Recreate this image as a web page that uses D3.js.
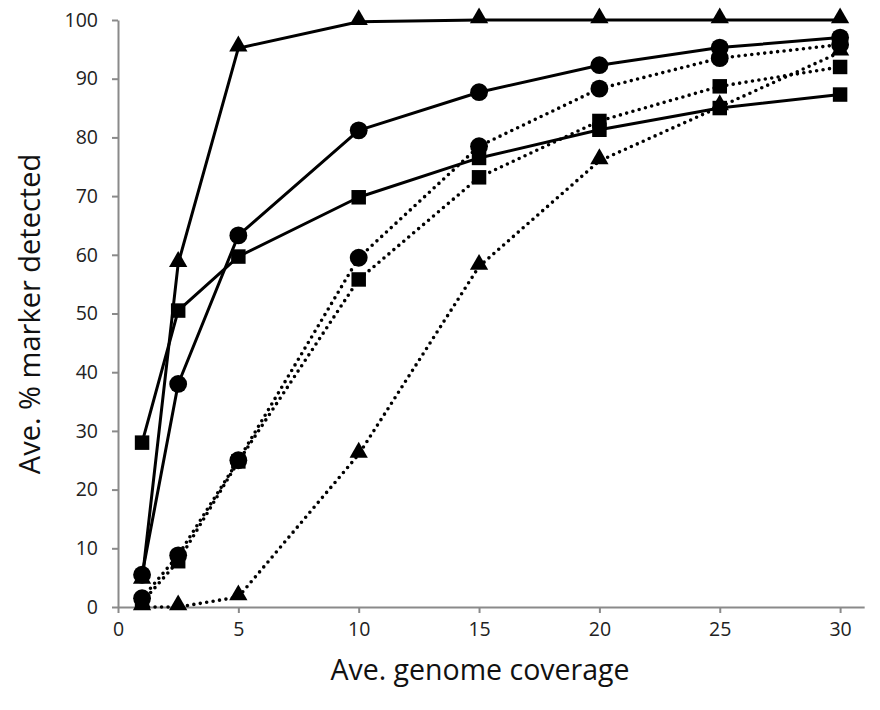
<!DOCTYPE html>
<html><head><meta charset="utf-8">
<script src="https://cdn.jsdelivr.net/npm/d3@7"></script>
<style>body{margin:0;background:#fff}svg{display:block}</style>
</head><body>
<script>
const coverage = [1, 2.5, 5, 10, 15, 20, 25, 30];
const solidTriangle = [4.5, 58.5, 95.2, 99.7, 100, 100, 100, 100];
const solidCircle   = [5.5, 38, 63.3, 81.2, 87.7, 92.3, 95.3, 97];
const solidSquare   = [28, 50.5, 59.7, 69.8, 76.5, 81.3, 85, 87.3];
const dottedCircle  = [1.5, 8.8, 25, 59.5, 78.5, 88.3, 93.5, 95.8];
const dottedSquare  = [0.8, 7.8, 24.8, 55.8, 73.2, 82.8, 88.7, 92];
const dottedTriangle= [0, 0, 1.7, 26, 58, 76, 85.2, 94.5];
const xTicks = [0, 5, 10, 15, 20, 25, 30];
const yTicks = [0, 10, 20, 30, 40, 50, 60, 70, 80, 90, 100];

const series = [
  {values: dottedTriangle, shape: "triangle", dotted: true},
  {values: dottedSquare, shape: "square", dotted: true},
  {values: dottedCircle, shape: "circle", dotted: true},
  {values: solidSquare, shape: "square", dotted: false},
  {values: solidCircle, shape: "circle", dotted: false},
  {values: solidTriangle, shape: "triangle", dotted: false}
];

const W = 880, H = 710;
const svg = d3.select("body").append("svg").attr("width", W).attr("height", H);
const x = d3.scaleLinear().domain([0, 31]).range([118, 118 + 31 * 24.07]);
const y = d3.scaleLinear().domain([0, 100]).range([607, 20]);
const font = "'Open Sans', 'Noto Sans', sans-serif";
const axisColor = "#8a8a8a";

// axes
const xAxis = svg.append("g").attr("transform", "translate(0,607)")
  .call(d3.axisBottom(x).tickValues(xTicks).tickSize(6).tickSizeOuter(0).tickPadding(9));
const yAxis = svg.append("g").attr("transform", "translate(118,0)")
  .call(d3.axisLeft(y).tickValues(yTicks).tickSize(6).tickSizeOuter(0).tickPadding(14));
[xAxis, yAxis].forEach(g => {
  g.selectAll("path,line").attr("stroke", axisColor).attr("stroke-width", 2);
  g.selectAll("text").attr("font-family", font).attr("font-size", 19.5).attr("fill", "#222");
});

// axis titles
svg.append("text").attr("x", 480).attr("y", 680).attr("text-anchor", "middle")
  .attr("font-family", font).attr("font-size", 28.5).attr("fill", "#111").text("Ave. genome coverage");
svg.append("text").attr("transform", "translate(40,314) rotate(-90)").attr("text-anchor", "middle")
  .attr("font-family", font).attr("font-size", 29).attr("fill", "#111").text("Ave. % marker detected");

const line = d3.line().x((d, i) => x(coverage[i])).y(d => y(d));

// lines
series.forEach(s => {
  svg.append("path").datum(s.values).attr("d", line)
    .attr("fill", "none").attr("stroke", "#000")
    .attr("stroke-width", s.dotted ? 3.6 : 3)
    .attr("stroke-linecap", s.dotted ? "round" : "butt")
    .attr("stroke-linejoin", "round")
    .attr("stroke-dasharray", s.dotted ? "0 6.5" : null);
});

// markers
const sym = {
  circle: d3.symbol().type(d3.symbolCircle).size(250),
  square: d3.symbol().type(d3.symbolSquare).size(210),
  triangle: d3.symbol().type(d3.symbolTriangle).size(145)
};
series.forEach(s => {
  svg.append("g").selectAll("path").data(s.values).join("path")
    .attr("transform", (d, i) => `translate(${x(coverage[i])},${y(d) + (s.shape === "triangle" ? -2 : 0)})`)
    .attr("d", sym[s.shape]).attr("fill", "#000");
});
</script>
</body></html>
